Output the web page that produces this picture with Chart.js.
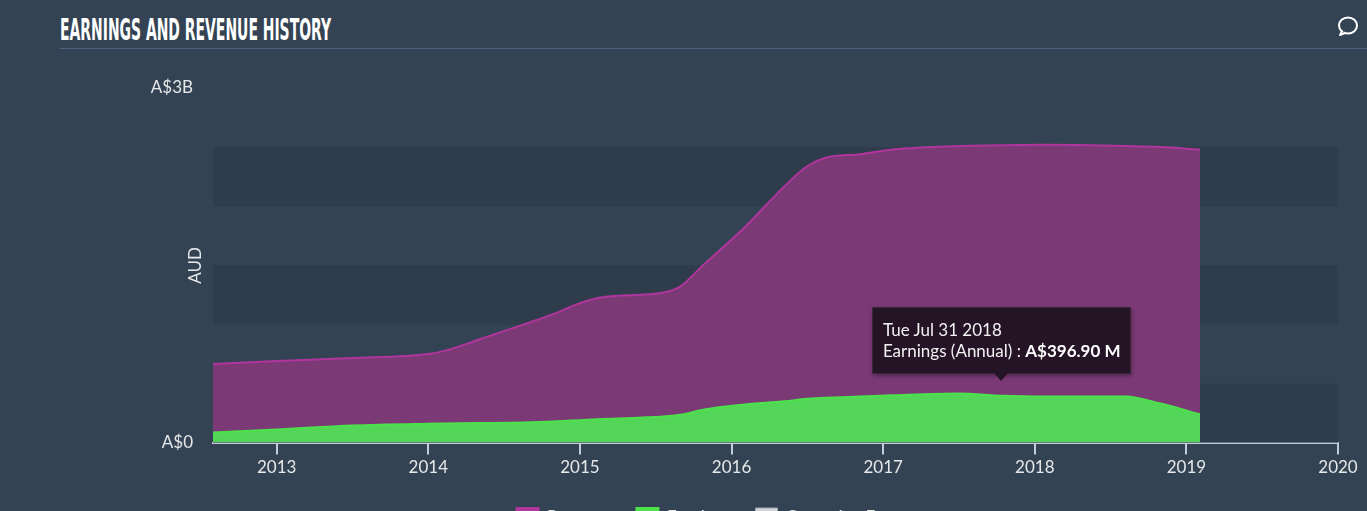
<!DOCTYPE html>
<html>
<head>
<meta charset="utf-8">
<script src="https://cdn.jsdelivr.net/npm/chart.js@4.4.1/dist/chart.umd.min.js"></script>
<style>
  html, body { margin: 0; padding: 0; width: 1367px; height: 511px; overflow: hidden; background: #344353; }
  #title { position: absolute; left: 60px; top: 14px; font-family: "Liberation Sans Narrow", "DejaVu Sans Condensed", sans-serif;
           font-weight: bold; font-size: 31px; line-height: 31px; color: #fff; white-space: nowrap; transform-origin: left top; }
  #rule { position: absolute; left: 60px; right: 0; top: 48px; height: 1px; background: #4d6480; }
  #comment { position: absolute; left: 1336px; top: 14px; }
  #wrap { position: absolute; left: 0; top: 0; width: 1367px; height: 536px; }
  #tip { position: absolute; display: none; width: 259px; box-sizing: border-box; padding: 11px 10px 12px 10px;
         background: #251326; border: 1px solid #3a2838; box-shadow: 1px 2px 4px rgba(0,0,0,0.35);
         font-family: Lato, sans-serif; font-size: 17px; line-height: 21px; color: #f2f2f2; white-space: nowrap; }
  #tip b { font-weight: bold; color: #fff; }
  #tip:after { content: ""; position: absolute; left: 50%; bottom: -8px; margin-left: -7px;
               border-left: 7px solid transparent; border-right: 7px solid transparent; border-top: 8px solid #251326; }
</style>
</head>
<body>
<div id="title">EARNINGS AND REVENUE HISTORY</div>
<div id="rule"></div>
<svg id="comment" width="24" height="24" viewBox="0 0 24 24">
  <ellipse cx="12" cy="11.5" rx="9" ry="8" fill="none" stroke="#fff" stroke-width="2"/>
  <path d="M6.5 16.5 L4 21 L9.5 18.8" fill="#344353" stroke="#fff" stroke-width="2" stroke-linejoin="round"/>
</svg>
<div id="wrap"><canvas id="chart"></canvas></div>
<div id="tip"></div>
<script>
// decimal years, values in A$ billions
const years    = [2012.58, 2013.0, 2013.5, 2014.0, 2014.12, 2014.33, 2014.63, 2014.85, 2015.0, 2015.15, 2015.55, 2015.66, 2015.82, 2016.07, 2016.35, 2016.5, 2016.62, 2016.85, 2017.06, 2017.5, 2017.78, 2018.05, 2018.6, 2018.83, 2019.09];
const revenue  = [0.665, 0.69, 0.716, 0.75, 0.78, 0.87, 1.0, 1.10, 1.18, 1.23, 1.27, 1.32, 1.51, 1.80, 2.17, 2.34, 2.41, 2.44, 2.48, 2.51, 2.515, 2.52, 2.51, 2.50, 2.48];
const earnings = [0.085, 0.11, 0.145, 0.16, 0.162, 0.165, 0.17, 0.18, 0.19, 0.20, 0.22, 0.235, 0.28, 0.32, 0.35, 0.37, 0.38, 0.39, 0.40, 0.415, 0.3969, 0.39, 0.39, 0.33, 0.24];
const opex     = [];

const xTicks = [2013, 2014, 2015, 2016, 2017, 2018, 2019, 2020];
const yTicks = [0, 3];
const yTickLabels = ['A$0', 'A$3B'];
const darkBands = [[0, 0.5], [1, 1.5], [2, 2.5]];

const tipIndex = 20;
const tipDate = 'Tue Jul 31 2018';

const txt = '#e6e8ea';
const font = { family: 'Lato', size: 17 };

// fit the condensed title to its width
const title = document.getElementById('title');
title.style.transform = 'scaleX(' + (271 / title.getBoundingClientRect().width) + ')';

const bands = {
    id: 'bands',
    afterLayout(chart) {
        // legend sits a little left of centre in the original, cut by the bottom edge
        chart.legend.left -= 17;
        chart.legend.right -= 17;
        chart.legend.top += 2;
        chart.legend.bottom += 2;
    },
    beforeDatasetsDraw(chart) {
        const { ctx, chartArea, scales: { y } } = chart;
        ctx.save();
        ctx.fillStyle = '#2f3c4b';
        darkBands.forEach(([a, b]) => {
            const top = y.getPixelForValue(b);
            ctx.fillRect(chartArea.left, top, chartArea.right - chartArea.left, y.getPixelForValue(a) - top);
        });
        ctx.restore();
    }
};

function fmtMillions(v) {
    return 'A$' + (v * 1000).toFixed(2) + ' M';
}

function externalTip(context) {
    const t = context.tooltip;
    const el = document.getElementById('tip');
    if (t.opacity === 0 || !t.dataPoints || !t.dataPoints.length) {
        el.style.display = 'none';
        return;
    }
    const dp = t.dataPoints[0];
    el.innerHTML = '<div>' + tipDate + '</div><div>' + dp.dataset.label + ' (Annual) : <b>' + fmtMillions(dp.parsed.y) + '</b></div>';
    el.style.display = 'block';
    el.style.left = (t.caretX - el.offsetWidth / 2) + 'px';
    el.style.top = (t.caretY - 22 - el.offsetHeight) + 'px';
}

const pts = arr => years.map((x, i) => ({ x: x, y: arr[i] }));

const chart = new Chart(document.getElementById('chart'), {
    type: 'line',
    data: {
        datasets: [
            {
                label: 'Revenue',
                data: pts(revenue),
                order: 2,
                fill: 'origin',
                backgroundColor: '#7b3a76',
                borderColor: '#b0359c',
                borderWidth: 2,
                pointRadius: 0,
                cubicInterpolationMode: 'monotone',
            },
            {
                label: 'Earnings',
                data: pts(earnings),
                order: 1,
                fill: 'origin',
                backgroundColor: '#53d657',
                borderColor: '#4ce24c',
                borderWidth: 2,
                pointRadius: 0,
                cubicInterpolationMode: 'monotone',
            },
            {
                label: 'Operating Expenses',
                data: opex,
                order: 3,
                backgroundColor: '#d3d5d8',
                borderColor: '#9ea3a8',
                borderWidth: 1,
            },
        ],
    },
    options: {
        responsive: true,
        maintainAspectRatio: false,
        animation: false,
        events: [],
        layout: { padding: { left: 148, right: 29, top: 88, bottom: 0 } },
        scales: {
            x: {
                type: 'linear',
                min: years[0],
                max: 2020,
                afterBuildTicks: s => { s.ticks = xTicks.map(v => ({ value: v })); },
                grid: { drawOnChartArea: false, drawTicks: true, tickLength: 12, color: '#c3cbd6', lineWidth: 2 },
                border: { display: true, color: '#c3cbd6', width: 2 },
                ticks: { color: txt, font: font, padding: 3, maxRotation: 0, callback: v => String(v) },
            },
            y: {
                min: 0,
                max: 3,
                afterBuildTicks: s => { s.ticks = yTicks.map(v => ({ value: v })); },
                afterFit: s => { s.width = 65; },
                grid: { display: false, drawTicks: false },
                border: { display: false },
                ticks: { color: txt, font: font, padding: 20, callback: (v, i) => yTickLabels[i] },
                title: { display: true, text: 'AUD', color: txt, font: font, padding: { top: 37, bottom: 0 } },
            },
        },
        plugins: {
            legend: {
                position: 'bottom',
                labels: {
                    color: txt,
                    font: font,
                    boxWidth: 22,
                    boxHeight: 20,
                    padding: 25,
                    sort: (a, b) => a.datasetIndex - b.datasetIndex,
                    generateLabels: c => Chart.defaults.plugins.legend.labels.generateLabels(c).map(l => {
                        if (l.datasetIndex < 2) { l.fillStyle = l.strokeStyle; }
                        return l;
                    }),
                },
            },
            tooltip: {
                enabled: false,
                animation: false,
                external: externalTip,
            },
        },
    },
    plugins: [bands],
});

chart.tooltip.setActiveElements([{ datasetIndex: 1, index: tipIndex }], { x: 0, y: 0 });
chart.update('none');
</script>
</body>
</html>
